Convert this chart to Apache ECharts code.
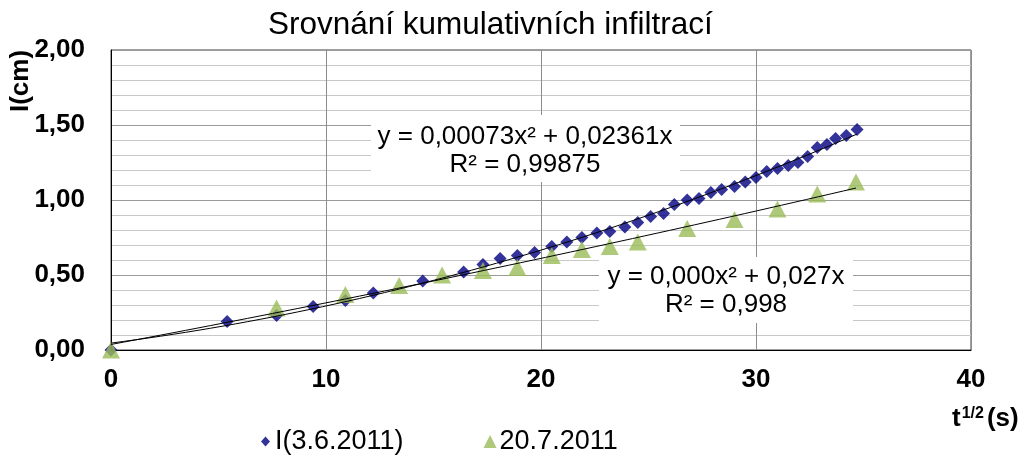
<!DOCTYPE html>
<html>
<head>
<meta charset="utf-8">
<script src="https://cdn.jsdelivr.net/npm/echarts@6/dist/echarts.min.js"></script>
<style>
  html, body { margin: 0; padding: 0; background: #fff; }
  #main { width: 1031px; height: 455px; }
</style>
</head>
<body>
<div id="main"></div>
<script>
// t^(1/2) (s) and I (cm)
const blueX = [0, 5.4, 7.7, 9.4, 10.9, 12.2, 14.5, 16.4, 17.3, 18.1, 18.9, 19.7, 20.5, 21.2, 21.9,
  22.6, 23.2, 23.9, 24.5, 25.1, 25.7, 26.2, 26.8, 27.35, 27.9, 28.4, 29.0, 29.5, 30.0, 30.5,
  31.0, 31.5, 31.95, 32.4, 32.85, 33.3, 33.7, 34.2, 34.7];
const blueY = [0, 0.19, 0.23, 0.29, 0.33, 0.38, 0.46, 0.52, 0.57, 0.61, 0.63, 0.65, 0.69, 0.72, 0.75,
  0.78, 0.79, 0.82, 0.85, 0.89, 0.91, 0.97, 1.00, 1.01, 1.05, 1.07, 1.09, 1.12, 1.15, 1.19,
  1.21, 1.23, 1.25, 1.29, 1.35, 1.37, 1.41, 1.43, 1.47];
const greenX = [0, 7.7, 10.9, 13.4, 15.4, 17.3, 18.9, 20.5, 21.9, 23.2, 24.5, 26.8, 29.0, 31.0, 32.85, 34.65];
const greenY = [0, 0.28, 0.37, 0.43, 0.50, 0.53, 0.55, 0.63, 0.67, 0.69, 0.72, 0.81, 0.87, 0.94, 1.04, 1.12];

const seriesNames = ['I(3.6.2011)', '20.7.2011'];
const eqBlue = ['y = 0,00073x² + 0,02361x', 'R² = 0,99875'];
const eqGreen = ['y = 0,000x² + 0,027x', 'R² = 0,998'];

const FONT = 'Liberation Sans, Arial, sans-serif';

// least squares polynomial of degree 2 (trendline like excel)
function polyFit(xs, ys) {
  let s = [0, 0, 0, 0, 0], t = [0, 0, 0];
  for (let i = 0; i < xs.length; i++) {
    let p = 1;
    for (let k = 0; k < 5; k++) { s[k] += p; if (k < 3) t[k] += p * ys[i]; p *= xs[i]; }
  }
  let m = [[s[0], s[1], s[2], t[0]], [s[1], s[2], s[3], t[1]], [s[2], s[3], s[4], t[2]]];
  for (let c = 0; c < 3; c++) {
    for (let r = c + 1; r < 3; r++) {
      let f = m[r][c] / m[c][c];
      for (let k = c; k < 4; k++) m[r][k] -= f * m[c][k];
    }
  }
  let a = [0, 0, 0];
  for (let r = 2; r >= 0; r--) {
    let v = m[r][3];
    for (let k = r + 1; k < 3; k++) v -= m[r][k] * a[k];
    a[r] = v / m[r][r];
  }
  return a;
}

function trend(xs, ys) {
  let a = polyFit(xs, ys);
  let x1 = Math.max.apply(null, xs);
  let out = [];
  for (let i = 0; i <= 60; i++) {
    let x = x1 * i / 60;
    out.push([x, a[0] + a[1] * x + a[2] * x * x]);
  }
  return out;
}

const chart = echarts.init(document.getElementById('main'));

let option = {
  animation: false,
  backgroundColor: '#fff',
  title: {
    text: 'Srovnání kumulativních infiltrací',
    left: 263,
    top: 4,
    textStyle: { fontFamily: FONT, fontSize: 31.5, fontWeight: 'normal', color: '#000' }
  },
  grid: {
    left: 111, top: 50, width: 860, height: 300,
    show: true, borderColor: '#404040', borderWidth: 1
  },
  legend: {
    data: [
      // diamond drawn smaller inside the icon box
      { name: seriesNames[0], icon: 'path://M0,0M13,13M6.5,1.5L11,6.5L6.5,11.5L2,6.5Z', itemStyle: { color: '#000080' } },
      { name: seriesNames[1], icon: 'triangle', itemStyle: { color: '#9bbb59' } }
    ],
    left: 254, top: 423,
    itemWidth: 13, itemHeight: 13, itemGap: 80,
    textStyle: { fontFamily: FONT, fontSize: 27, color: '#000', padding: [0, 0, 0, -2] }
  },
  xAxis: {
    type: 'value', min: 0, max: 40, interval: 10,
    axisLine: { lineStyle: { color: '#000', width: 1 } },
    axisTick: { show: false },
    axisLabel: { fontFamily: FONT, fontSize: 26, fontWeight: 'bold', color: '#000', margin: 17 },
    splitLine: { lineStyle: { color: '#8c8c8c', width: 1 } }
  },
  yAxis: {
    type: 'value', min: 0, max: 2, interval: 0.5,
    axisLine: { show: true, lineStyle: { color: '#000', width: 1 } },
    axisTick: { show: false },
    axisLabel: {
      fontFamily: FONT, fontSize: 26, fontWeight: 'bold', color: '#000', margin: 26,
      formatter: v => v.toFixed(2).replace('.', ',')
    },
    splitLine: { lineStyle: { color: '#9a9a9a', width: 1 } },
    minorTick: { show: false, splitNumber: 5 },
    minorSplitLine: { show: true, lineStyle: { color: '#c8c8c8', width: 1 } }
  },
  graphic: [
    {
      type: 'text', x: 21, y: 81, rotation: Math.PI / 2,
      style: { text: 'I(cm)', font: 'bold 26px ' + FONT, fill: '#000', align: 'center', verticalAlign: 'middle' }
    },
    {
      type: 'text', left: 952, top: 406,
      style: {
        text: '{t|t}{s|1/2}{t|(s)}',
        rich: {
          t: { font: 'bold 26px ' + FONT, fill: '#000', verticalAlign: 'bottom' },
          s: { font: 'bold 16px ' + FONT, fill: '#000', verticalAlign: 'top', padding: [0, 3, 0, 1] }
        }
      }
    },
    {
      type: 'rect', left: 371, top: 115, z: 50,
      shape: { width: 309, height: 67 }, style: { fill: '#fff' }
    },
    {
      type: 'text', x: 525, y: 151, z: 51,
      style: {
        text: eqBlue.join('\n'), font: '26px ' + FONT, fill: '#000',
        align: 'center', verticalAlign: 'middle', lineHeight: 28
      }
    },
    {
      type: 'rect', left: 599, top: 257, z: 50,
      shape: { width: 254, height: 66 }, style: { fill: '#fff' }
    },
    {
      type: 'text', x: 726, y: 291, z: 51,
      style: {
        text: eqGreen.join('\n'), font: '26px ' + FONT, fill: '#000',
        align: 'center', verticalAlign: 'middle', lineHeight: 28
      }
    }
  ],
  series: [
    {
      name: seriesNames[0], type: 'scatter', symbol: 'diamond', symbolSize: 13, clip: false,
      itemStyle: { color: '#000080' }, z: 3,
      data: blueX.map((x, i) => [x, blueY[i]])
    },
    {
      name: seriesNames[1], type: 'scatter', symbol: 'triangle', symbolSize: [18, 17], clip: false,
      itemStyle: { color: '#9bbb59' }, z: 4,
      data: greenX.map((x, i) => [x, greenY[i]])
    },
    {
      name: 'trend1', type: 'line', showSymbol: false, z: 5, silent: true,
      lineStyle: { color: '#000', width: 1 },
      data: trend(blueX, blueY)
    },
    {
      name: 'trend2', type: 'line', showSymbol: false, z: 5, silent: true,
      lineStyle: { color: '#000', width: 1 },
      data: trend(greenX, greenY)
    }
  ]
};

chart.setOption(option);
</script>
</body>
</html>
